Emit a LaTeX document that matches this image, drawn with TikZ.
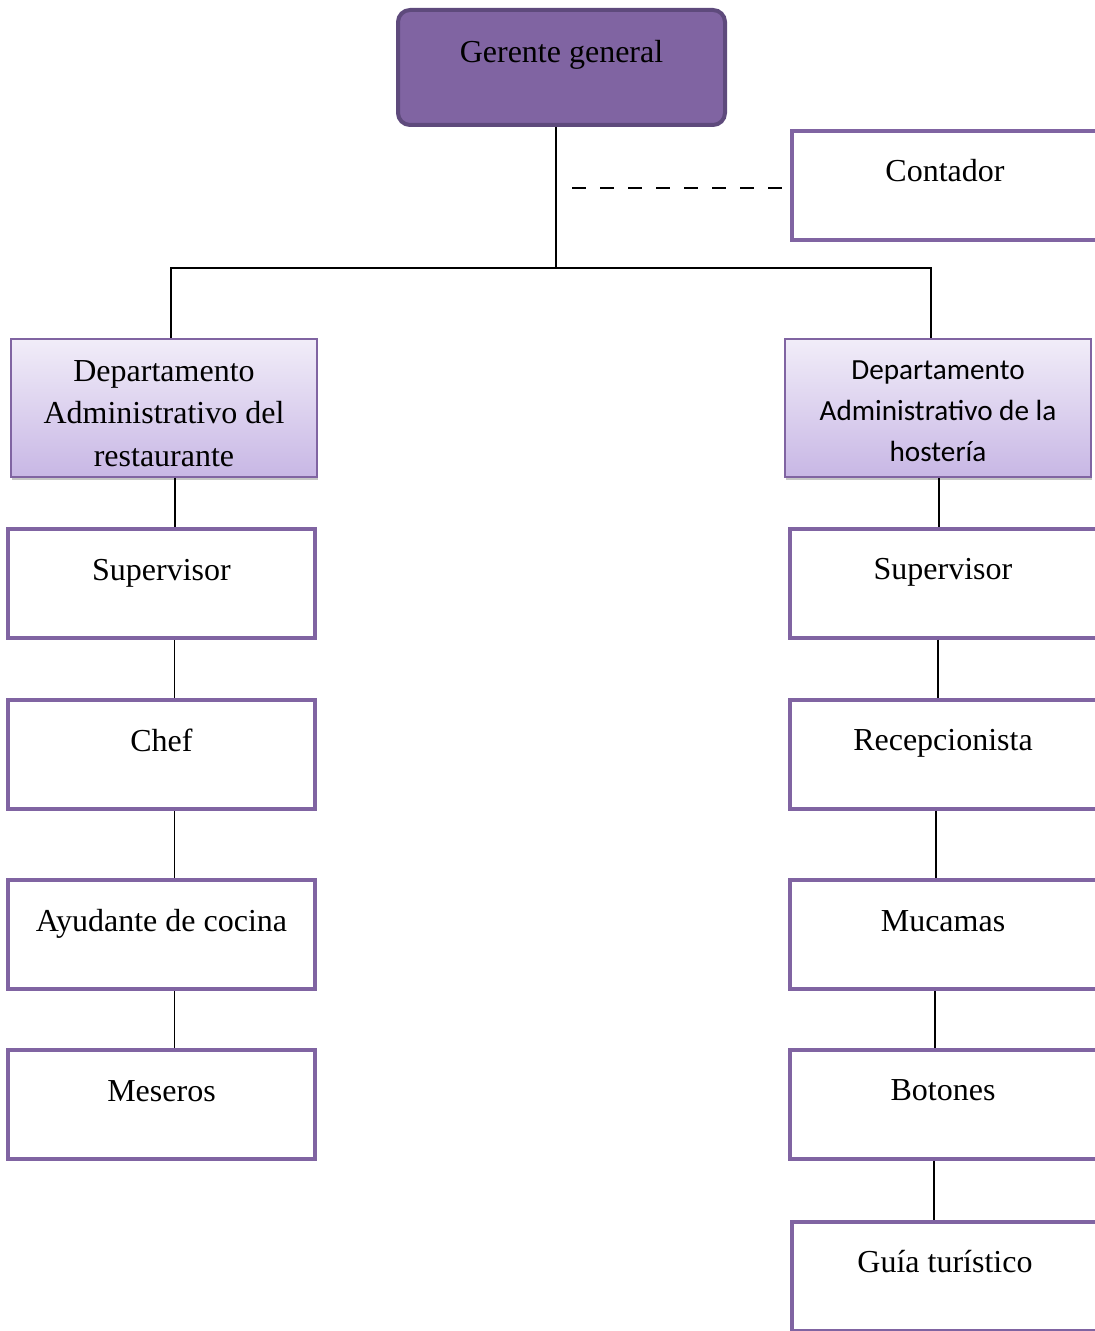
\documentclass[tikz,border=0pt]{standalone}
\usepackage{fontspec}
\setmainfont{Liberation Serif}
\newfontfamily\calibri{Carlito}
\usetikzlibrary{shadows}
\definecolor{lila}{HTML}{8064A2}
\definecolor{lilaosc}{HTML}{5E4A7C}
\definecolor{lilaclaro}{HTML}{C8B7E5}
\tikzset{
    gerbox/.style={draw=lilaosc, fill=lila, line width=2pt, rounded corners=6pt,
        minimum width=163.5pt, minimum height=57.5pt, inner sep=0pt,
        text height=26.5pt, text depth=31pt, font=\fontsize{16}{19}\selectfont},
    cargo/.style={draw=lila, fill=white, line width=2pt,
        minimum width=153.5pt, minimum height=54.5pt, inner sep=0pt,
        text height=25.5pt, text depth=29pt, font=\fontsize{16}{19}\selectfont},
    depto/.style={draw=lila, line width=0.8pt, top color=lilaclaro!25, bottom color=lilaclaro,
        minimum width=153pt, minimum height=69pt, inner sep=0pt, align=center,
        drop shadow={shadow xshift=0.6pt, shadow yshift=-1.6pt, opacity=0.45}},
    linea/.style={line width=0.8pt},
}
\begin{document}
\begin{tikzpicture}[x=0.5pt, y=-0.5pt]
    \useasboundingbox (0,0) rectangle (1095,1331);
    \clip (0,0) rectangle (1095,1331);
    % direccion
    \node[gerbox] (ger) at (561.5,67.5) {Gerente general};
    \node[cargo] (cont) at (945,185.5) {Contador};
    \coordinate (bus) at (556,268);
    \coordinate (asesor) at (572,188);
    % departamentos
    \node[depto, font=\fontsize{16}{21.25}\selectfont] (depL) at (164,408)
        {\rule{0pt}{16pt}Departamento\\Administrativo del\\restaurante};
    \node[depto, font=\calibri\fontsize{14.6}{20.5}\selectfont] (depR) at (938,408)
        {\rule{0pt}{12.5pt}Departamento\\Administrativo de la\\hostería};
    % restaurante
    \node[cargo] (supL) at (161.5,583.5) {Supervisor};
    \node[cargo] (chef) at (161.5,754.5) {Chef};
    \node[cargo] (ayud) at (161.5,934.5) {Ayudante de cocina};
    \node[cargo] (mese) at (161.5,1104.5) {Meseros};
    % hosteria
    \node[cargo] (supR) at (943,583) {Supervisor};
    \node[cargo] (recp) at (943,754) {Recepcionista};
    \node[cargo] (muca) at (943,934.5) {Mucamas};
    \node[cargo] (boto) at (943,1104) {Botones};
    \node[cargo] (guia) at (945,1276) {Guía turístico};
    % conexiones
    \draw[linea] (ger.south -| bus) -- (bus);
    \draw[linea] ([xshift=3.5pt]depL.north) |- (bus) -| ([xshift=-3.5pt]depR.north);
    \draw[linea, dash pattern=on 7pt off 7pt] (asesor) -- (cont.west |- asesor);
    \draw[linea] ([xshift=5.5pt]depL.south) -- ([xshift=5.5pt]depL.south |- supL.north);
    \draw[linea] ([xshift=6.5pt]supL.south) -- ([xshift=6.5pt]chef.north);
    \draw[linea] ([xshift=6.5pt]chef.south) -- ([xshift=6.5pt]ayud.north);
    \draw[linea] ([xshift=6.5pt]ayud.south) -- ([xshift=6.5pt]mese.north);
    \draw[linea] ([xshift=0.5pt]depR.south) -- ([xshift=0.5pt]depR.south |- supR.north);
    \draw[linea] ([xshift=-2.5pt]supR.south) -- ([xshift=-2.5pt]recp.north);
    \draw[linea] ([xshift=-3.5pt]recp.south) -- ([xshift=-3.5pt]muca.north);
    \draw[linea] ([xshift=-4pt]muca.south) -- ([xshift=-4pt]boto.north);
    \draw[linea] ([xshift=-4.5pt]boto.south) -- ([xshift=-4.5pt]boto.south |- guia.north);
\end{tikzpicture}
\end{document}
